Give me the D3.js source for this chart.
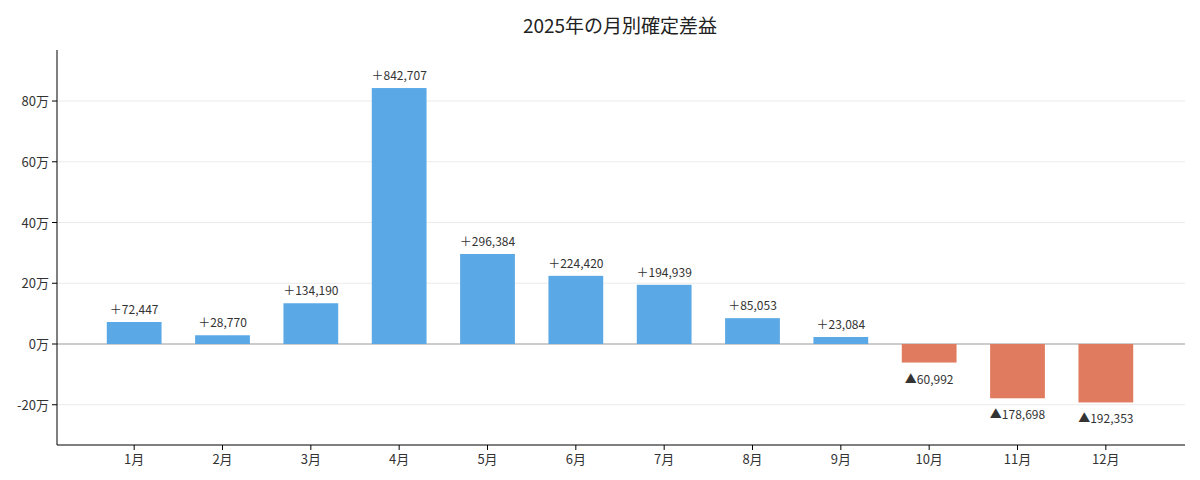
<!DOCTYPE html>
<html><head><meta charset="utf-8">
<script src="https://cdn.jsdelivr.net/npm/d3@7"></script>
<style>body{margin:0;background:#fff;font-family:"Noto Sans CJK JP","Noto Sans",sans-serif;}</style>
</head><body>
<svg id="chart" width="1200" height="480"></svg>
<script>
var months = ['1月','2月','3月','4月','5月','6月','7月','8月','9月','10月','11月','12月'];
var values = [72447, 28770, 134190, 842707, 296384, 224420, 194939, 85053, 23084, -60992, -178698, -192353];
var yTicks = [-200000, 0, 200000, 400000, 600000, 800000];

var svg = d3.select('#chart');
var plotLeft = 57, plotRight = 1185, plotTop = 50, plotBottom = 445;

var x = d3.scaleBand().domain(months).range([90, 1150]).paddingInner(0.38).paddingOuter(0.19);
var y = d3.scaleLinear().domain([-332500, 968000]).range([plotBottom, plotTop]);

svg.append('text').attr('x', 620).attr('y', 33).attr('text-anchor', 'middle')
  .attr('font-size', 19).attr('fill', '#222').text('2025年の月別確定差益');

// grid
svg.selectAll('.grid').data(yTicks).enter().append('line')
  .attr('x1', plotLeft).attr('x2', plotRight)
  .attr('y1', function(d){ return y(d); }).attr('y2', function(d){ return y(d); })
  .attr('stroke', function(d){ return d === 0 ? '#999' : '#ebebeb'; })
  .attr('stroke-width', 1);

svg.selectAll('.ytick').data(yTicks).enter().append('text')
  .attr('x', plotLeft - 8).attr('y', function(d){ return y(d) + 5; })
  .attr('text-anchor', 'end').attr('font-size', 13).attr('fill', '#333')
  .text(function(d){ return (d / 10000) + '万'; });
svg.selectAll('.ytk').data(yTicks).enter().append('line')
  .attr('x1', plotLeft - 5).attr('x2', plotLeft)
  .attr('y1', function(d){ return y(d); }).attr('y2', function(d){ return y(d); })
  .attr('stroke', '#000');

// bars
svg.selectAll('.bar').data(values).enter().append('rect')
  .attr('x', function(d, i){ return x(months[i]); })
  .attr('width', x.bandwidth())
  .attr('y', function(d){ return y(Math.max(0, d)); })
  .attr('height', function(d){ return Math.abs(y(d) - y(0)); })
  .attr('fill', function(d){ return d >= 0 ? '#5aa8e6' : '#e07b5f'; });

svg.selectAll('.lbl').data(values).enter().append('text')
  .attr('x', function(d, i){ return x(months[i]) + x.bandwidth() / 2; })
  .attr('y', function(d){ return d >= 0 ? y(d) - 8 : y(d) + 21; })
  .attr('text-anchor', 'middle').attr('font-size', 12).attr('fill', '#333')
  .text(function(d){ return (d >= 0 ? '＋' : '▲') + d3.format(',')(Math.abs(d)); });

// axes lines
svg.append('line').attr('x1', plotLeft).attr('x2', plotLeft).attr('y1', plotTop).attr('y2', plotBottom).attr('stroke', '#000');
svg.append('line').attr('x1', plotLeft).attr('x2', plotRight).attr('y1', plotBottom).attr('y2', plotBottom).attr('stroke', '#000');

svg.selectAll('.xtk').data(months).enter().append('line')
  .attr('x1', function(d){ return x(d) + x.bandwidth() / 2; })
  .attr('x2', function(d){ return x(d) + x.bandwidth() / 2; })
  .attr('y1', plotBottom).attr('y2', plotBottom + 5).attr('stroke', '#000');
svg.selectAll('.xlbl').data(months).enter().append('text')
  .attr('x', function(d){ return x(d) + x.bandwidth() / 2; })
  .attr('y', plotBottom + 19).attr('text-anchor', 'middle')
  .attr('font-size', 13).attr('fill', '#333').text(function(d){ return d; });
</script>
</body></html>
